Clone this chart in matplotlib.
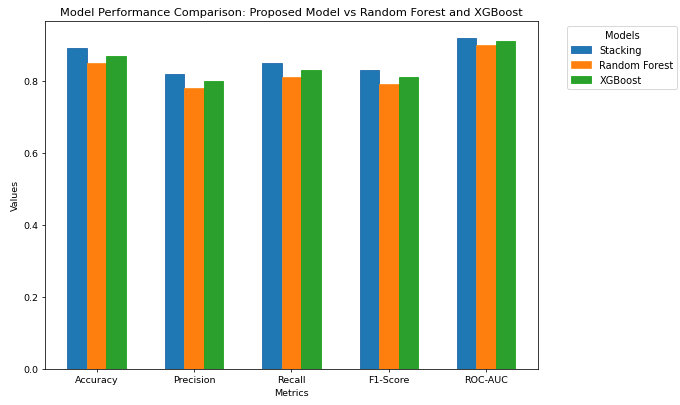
import numpy as np
import matplotlib
matplotlib.use('Agg')
import matplotlib.pyplot as plt

metrics = ['Accuracy', 'Precision', 'Recall', 'F1-Score', 'ROC-AUC']
stacking = [0.89, 0.82, 0.85, 0.83, 0.92]
random_forest = [0.85, 0.78, 0.81, 0.79, 0.90]
xgboost = [0.87, 0.80, 0.83, 0.81, 0.91]

x = np.arange(len(metrics))
width = 0.2

fig, ax = plt.subplots(figsize=(10, 5.97), dpi=68)
ax.bar(x - width, stacking, width, label='Stacking', color='#1f77b4', edgecolor='#1560a8', linewidth=0.8)
ax.bar(x, random_forest, width, label='Random Forest', color='#ff7f0e', edgecolor='#ff8c1a', linewidth=0.8)
ax.bar(x + width, xgboost, width, label='XGBoost', color='#2ca02c', edgecolor='#10a010', linewidth=0.8)

ax.set_xlabel('Metrics')
ax.set_ylabel('Values')
ax.set_title('Model Performance Comparison: Proposed Model vs Random Forest and XGBoost')
ax.set_xticks(x)
ax.set_xticklabels(metrics)
ax.legend(title='Models', bbox_to_anchor=(1.05, 1), loc='upper left', fontsize=10.5, title_fontsize=10.5)

plt.subplots_adjust(left=0.066, right=0.791, top=0.946, bottom=0.089)
plt.savefig('out.png')
